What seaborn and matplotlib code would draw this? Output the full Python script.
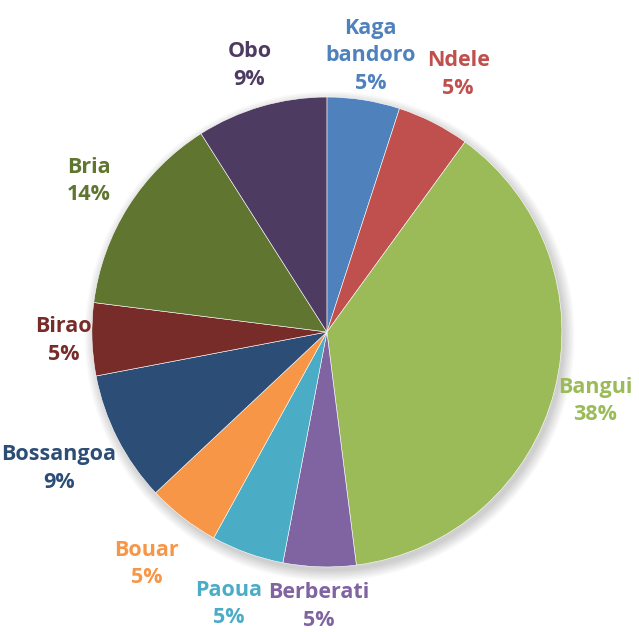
import matplotlib
matplotlib.use("Agg")
import matplotlib.pyplot as plt
import seaborn as sns
import numpy as np
from matplotlib.patches import Circle

sns.set_theme(style="white")
plt.rcParams['font.family'] = ['Open Sans', 'DejaVu Sans']

cities = ["Kaga\nbandoro", "Ndele", "Bangui", "Berberati", "Paoua",
          "Bouar", "Bossangoa", "Birao", "Bria", "Obo"]
shares = [5, 5, 38, 5, 5, 5, 9, 5, 14, 9]
colors = ["#4F81BD", "#C0504D", "#9BBB59", "#8064A2", "#4BACC6",
          "#F79646", "#2C4D75", "#772C2A", "#5F7530", "#4D3B62"]
label_dist = [1.19, 1.23, 1.18, 1.17, 1.23, 1.25, 1.28, 1.12, 1.2, 1.18]

fig = plt.figure(figsize=(6.39, 6.32), dpi=100)
ax = fig.add_axes([0, 0, 1, 1])

# soft shadow under the pie
for k in range(8):
    ax.add_patch(Circle((0.012, -0.018), 1.0 + 0.006 * k, color="black",
                        alpha=0.025, lw=0, zorder=0))

wedges, _ = ax.pie(shares, colors=colors, startangle=90, counterclock=False,
                   wedgeprops=dict(edgecolor="white", linewidth=0.4))
for w in wedges:
    w.set_zorder(2)

for w, name, val, col, d in zip(wedges, cities, shares, colors, label_dist):
    ang = np.deg2rad((w.theta1 + w.theta2) / 2)
    ax.text(d * np.cos(ang), d * np.sin(ang), f"{name}\n{val}%", color=col,
            ha="center", va="center", fontsize=15.5, fontweight="bold",
            linespacing=1.42)

ax.set_xlim(-1.391, 1.328)
ax.set_ylim(-1.277, 1.413)
ax.set_aspect("auto")
ax.axis("off")
fig.savefig("out.png", dpi=100)
